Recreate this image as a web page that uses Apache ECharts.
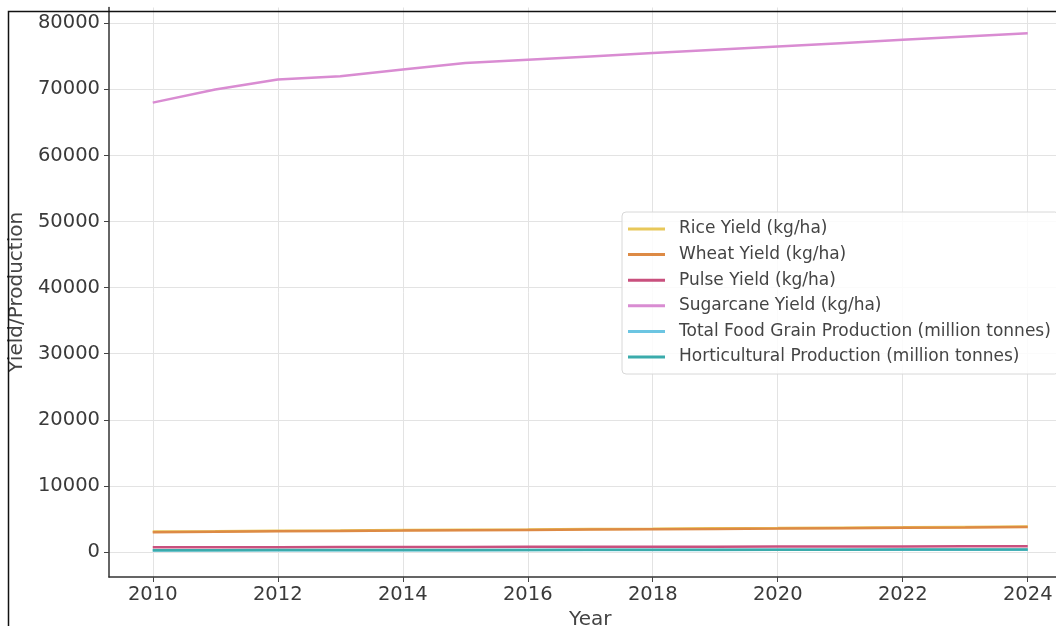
<!DOCTYPE html>
<html>
<head>
<meta charset="utf-8">
<script src="https://cdn.jsdelivr.net/npm/echarts@6/dist/echarts.min.js"></script>
<style>
html,body{margin:0;padding:0;background:#fff;}
#chart{width:1056px;height:626px;}
</style>
</head>
<body>
<div id="chart"></div>
<script>
const years = [2010,2011,2012,2013,2014,2015,2016,2017,2018,2019,2020,2021,2022,2023,2024];
const riceYield = [3080,3130,3200,3240,3300,3350,3400,3460,3500,3560,3610,3670,3720,3780,3840];
const wheatYield = [2990,3050,3120,3170,3220,3280,3330,3380,3430,3480,3530,3590,3650,3700,3760];
const pulseYield = [690,700,715,725,735,750,760,770,785,795,805,820,830,845,860];
const sugarcaneYield = [68000,70000,71500,72000,73000,74000,74500,75000,75500,76000,76500,77000,77500,78000,78500];
const totalFoodGrain = [218,235,250,256,252,262,275,285,297,300,310,316,323,330,335];
const horticultural = [240,255,268,277,281,286,295,311,314,320,331,335,351,355,360];
const xTicks = [2010,2012,2014,2016,2018,2020,2022,2024];
const yTicks = [0,10000,20000,30000,40000,50000,60000,70000,80000];

const seriesDefs = [
  {name:'Rice Yield (kg/ha)', data:riceYield, color:'#e8c85a'},
  {name:'Wheat Yield (kg/ha)', data:wheatYield, color:'#dd8a45'},
  {name:'Pulse Yield (kg/ha)', data:pulseYield, color:'#c9507e'},
  {name:'Sugarcane Yield (kg/ha)', data:sugarcaneYield, color:'#d98cd2'},
  {name:'Total Food Grain Production (million tonnes)', data:totalFoodGrain, color:'#6cc5e2'},
  {name:'Horticultural Production (million tonnes)', data:horticultural, color:'#3aabab'}
];

const font = 'DejaVu Sans';
const chart = echarts.init(document.getElementById('chart'), null, {renderer:'canvas'});
chart.setOption({
  animation:false,
  backgroundColor:'#fff',
  grid:{left:109, right:-15.5, top:7.5, bottom:49, containLabel:false, outerBoundsMode:'none'},
  xAxis:{
    type:'value', min:2009.3, max:2024.7,
    name:'Year', nameLocation:'middle', nameGap:31,
    nameTextStyle:{fontFamily:font, fontSize:20, color:'#444'},
    axisLine:{show:true, onZero:false, lineStyle:{color:'#333', width:1.5}},
    axisTick:{show:true, length:5, lineStyle:{color:'#444'}, customValues:xTicks},
    axisLabel:{fontFamily:font, fontSize:19.5, color:'#3a3a3a', margin:8, customValues:xTicks, formatter:v=>String(v)},
    splitLine:{show:true, lineStyle:{color:'#e3e3e3', width:1}}
  },
  yAxis:{
    type:'value', min:-3800, max:82400,
    name:'Yield/Production', nameLocation:'middle', nameGap:80,
    nameTextStyle:{fontFamily:font, fontSize:20, color:'#444'},
    axisLine:{show:true, onZero:false, lineStyle:{color:'#333', width:1.5}},
    axisTick:{show:true, length:5, lineStyle:{color:'#444'}, customValues:yTicks},
    axisLabel:{fontFamily:font, fontSize:19.5, color:'#3a3a3a', margin:9, customValues:yTicks, formatter:v=>String(v)},
    splitLine:{show:true, lineStyle:{color:'#e3e3e3', width:1}}
  },
  legend:{
    orient:'vertical', left:622, top:212,
    padding:[8,8,8,6], itemGap:7.6,
    itemWidth:37, itemHeight:3,
    backgroundColor:'rgba(255,255,255,0.85)', borderColor:'#d8d8d8', borderWidth:1, borderRadius:4,
    textStyle:{fontFamily:font, fontSize:17, color:'#444', lineHeight:18, padding:[0,0,0,9]},
    data:seriesDefs.map(s=>({name:s.name, icon:'rect'}))
  },
  graphic:[{
    type:'rect', silent:true, z:100,
    shape:{x:8.5, y:11.5, width:1200, height:800},
    style:{fill:null, stroke:'#111', lineWidth:1.5}
  }],
  series:seriesDefs.map(s=>({
    name:s.name, type:'line', showSymbol:false, symbol:'none',
    data:years.map((y,i)=>[y, s.data[i]]),
    lineStyle:{color:s.color, width:2.5}, itemStyle:{color:s.color}
  }))
});
</script>
</body>
</html>
